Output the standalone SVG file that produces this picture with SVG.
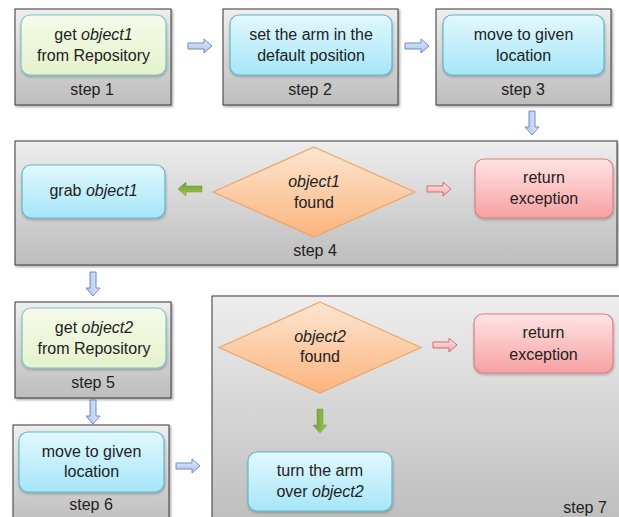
<svg xmlns="http://www.w3.org/2000/svg" width="619" height="517" viewBox="0 0 619 517">
<defs>
<linearGradient id="gFrame" x1="0" y1="0" x2="0" y2="1"><stop offset="0" stop-color="#eeeeee"/><stop offset="1" stop-color="#bdbdbd"/></linearGradient>
<linearGradient id="gGreen" x1="0" y1="0" x2="0" y2="1"><stop offset="0" stop-color="#f6fbea"/><stop offset="1" stop-color="#e4f2cc"/></linearGradient>
<linearGradient id="gBlue" x1="0" y1="0" x2="0" y2="1"><stop offset="0" stop-color="#e2f8fe"/><stop offset="1" stop-color="#a6e6f8"/></linearGradient>
<linearGradient id="gRed" x1="0" y1="0" x2="0" y2="1"><stop offset="0" stop-color="#ffe4e4"/><stop offset="1" stop-color="#f7a0a2"/></linearGradient>
<linearGradient id="gDia" x1="0" y1="0" x2="0" y2="1"><stop offset="0" stop-color="#fde6d2"/><stop offset="1" stop-color="#fbb47c"/></linearGradient>
<linearGradient id="gArB" x1="0" y1="0" x2="0" y2="1"><stop offset="0" stop-color="#e4ecfa"/><stop offset="1" stop-color="#a9c2ec"/></linearGradient>
<linearGradient id="gArR" x1="0" y1="0" x2="0" y2="1"><stop offset="0" stop-color="#fde8e8"/><stop offset="1" stop-color="#f3a8a8"/></linearGradient>
<linearGradient id="gArG" x1="0" y1="0" x2="0" y2="1"><stop offset="0" stop-color="#9cc65a"/><stop offset="1" stop-color="#6e9c30"/></linearGradient>
<filter id="sh" x="-10%" y="-10%" width="125%" height="130%"><feDropShadow dx="1.5" dy="1.5" stdDeviation="1.2" flood-color="#000" flood-opacity="0.35"/></filter>
<filter id="sh2" x="-10%" y="-10%" width="125%" height="130%"><feDropShadow dx="0.5" dy="1.5" stdDeviation="1" flood-color="#000" flood-opacity="0.25"/></filter>
<path id="arr" d="M-12,-3 H4 V-7 L12,0 L4,7 V3 H-12 Z"/>
</defs>
<style>
.frame{fill:url(#gFrame);stroke:#3a3a3a;stroke-width:1;filter:url(#sh)}
.bg{fill:url(#gGreen);stroke:#7cc4d0;stroke-width:1.2;filter:url(#sh2)}
.bb{fill:url(#gBlue);stroke:#5fb8cc;stroke-width:1.2;filter:url(#sh2)}
.br{fill:url(#gRed);stroke:#e07c80;stroke-width:1.2;filter:url(#sh2)}
.dia{fill:url(#gDia);stroke:#f0a468;stroke-width:1.2}
.ab{fill:url(#gArB);stroke:#6a8cc8;stroke-width:1}
.ar{fill:url(#gArR);stroke:#cf6c6c;stroke-width:1}
.ag{fill:url(#gArG);stroke:#6e9c30;stroke-width:0.5}
text{font-family:"Liberation Sans",Arial,sans-serif;font-size:16px;fill:#222;text-anchor:middle}
.i{font-style:italic}
</style>

<g id="step1">
<rect class="frame" x="15" y="9" width="156" height="96"/>
<rect class="bg" x="21" y="15" width="145" height="60" rx="9"/>
<text x="93.5" y="40">get <tspan class="i">object1</tspan></text>
<text x="93.5" y="61">from Repository</text>
<text x="92" y="95">step 1</text>
</g>

<g id="step2">
<rect class="frame" x="223" y="9" width="175" height="96"/>
<rect class="bb" x="230" y="15" width="162" height="60" rx="9"/>
<text x="311" y="40">set the arm in the</text>
<text x="311" y="61">default position</text>
<text x="310" y="95">step 2</text>
</g>

<g id="step3">
<rect class="frame" x="436" y="9" width="175" height="96"/>
<rect class="bb" x="443" y="15" width="161" height="60" rx="9"/>
<text x="523.5" y="40">move to given</text>
<text x="523.5" y="61">location</text>
<text x="523" y="95">step 3</text>
</g>

<g id="step4">
<rect class="frame" x="15" y="141" width="602" height="124"/>
<rect class="bb" x="22" y="165" width="143" height="53" rx="9"/>
<text x="93.5" y="196">grab <tspan class="i">object1</tspan></text>
<polygon class="dia" points="314,147 415,192 314,237 213,192"/>
<text class="i" x="314" y="187">object1</text>
<text x="314" y="208">found</text>
<rect class="br" x="475" y="159" width="138" height="59" rx="9"/>
<text x="544" y="183">return</text>
<text x="544" y="204">exception</text>
<text x="315" y="256">step 4</text>
</g>

<g id="step5">
<rect class="frame" x="15" y="302" width="156" height="96"/>
<rect class="bg" x="22" y="308" width="144" height="60" rx="9"/>
<text x="94" y="333">get <tspan class="i">object2</tspan></text>
<text x="94" y="354">from Repository</text>
<text x="93" y="388">step 5</text>
</g>

<g id="step6">
<rect class="frame" x="13" y="425" width="156" height="100"/>
<rect class="bb" x="19" y="432" width="145" height="60" rx="9"/>
<text x="91.5" y="457">move to given</text>
<text x="91.5" y="477">location</text>
<text x="91" y="510">step 6</text>
</g>

<g id="step7">
<rect class="frame" x="212" y="296" width="420" height="230"/>
<polygon class="dia" points="320,302 421,347.5 320,393 219,347.5"/>
<text class="i" x="320" y="342">object2</text>
<text x="320" y="362">found</text>
<rect class="br" x="474" y="314" width="139" height="59" rx="9"/>
<text x="543.5" y="338">return</text>
<text x="543.5" y="360">exception</text>
<rect class="bb" x="248" y="452" width="144" height="59" rx="9"/>
<text x="320" y="476">turn the arm</text>
<text x="320" y="497">over <tspan class="i">object2</tspan></text>
<text x="585" y="513">step 7</text>
</g>

<g id="connectors">
<use href="#arr" class="ab" transform="translate(200,46)"/>
<use href="#arr" class="ab" transform="translate(417,46)"/>
<use href="#arr" class="ab" transform="translate(532,123) rotate(90)"/>
<use href="#arr" class="ag" transform="translate(190,189) rotate(180)"/>
<use href="#arr" class="ar" transform="translate(439,189)"/>
<use href="#arr" class="ab" transform="translate(93,284) rotate(90)"/>
<use href="#arr" class="ab" transform="translate(93,412) rotate(90)"/>
<use href="#arr" class="ab" transform="translate(188,466)"/>
<use href="#arr" class="ar" transform="translate(445,345)"/>
<use href="#arr" class="ag" transform="translate(320,421) rotate(90)"/>
</g>
</svg>
